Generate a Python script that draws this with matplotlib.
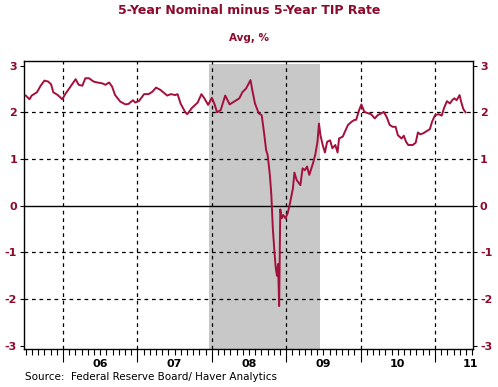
import matplotlib.pyplot as plt
import matplotlib.transforms as mtransforms
import numpy as np

plt.rcParams["axes.unicode_minus"] = False

# 5-year nominal minus 5-year TIPS rate (decimal years, %)
years = [
    2005.50, 2005.55, 2005.58, 2005.65, 2005.70, 2005.75, 2005.80, 2005.84, 2005.87,
    2005.93, 2005.99, 2006.03, 2006.10, 2006.17, 2006.21, 2006.26, 2006.30, 2006.35,
    2006.41, 2006.46, 2006.53, 2006.57, 2006.62, 2006.66, 2006.70, 2006.77, 2006.84,
    2006.88, 2006.94, 2006.97, 2007.02, 2007.09, 2007.15, 2007.20, 2007.25, 2007.31,
    2007.40, 2007.45, 2007.51, 2007.54, 2007.58, 2007.64, 2007.67, 2007.73, 2007.81,
    2007.86, 2007.90, 2007.95, 2008.00, 2008.04, 2008.07, 2008.12, 2008.18, 2008.24,
    2008.30, 2008.37, 2008.41, 2008.46, 2008.52, 2008.54, 2008.58, 2008.63, 2008.67,
    2008.70, 2008.73, 2008.75, 2008.78, 2008.80, 2008.82, 2008.84, 2008.857, 2008.875,
    2008.89, 2008.905, 2008.92, 2008.94, 2008.96, 2008.99, 2009.02, 2009.05, 2009.09,
    2009.11, 2009.14, 2009.19, 2009.22, 2009.25, 2009.28, 2009.31, 2009.36, 2009.39,
    2009.42, 2009.44, 2009.46, 2009.49, 2009.52, 2009.55, 2009.59, 2009.62, 2009.66,
    2009.69, 2009.71, 2009.76, 2009.79, 2009.83, 2009.88, 2009.92, 2009.94, 2009.98,
    2010.01, 2010.05, 2010.10, 2010.14, 2010.19, 2010.23, 2010.28, 2010.31, 2010.35,
    2010.39, 2010.43, 2010.47, 2010.50, 2010.55, 2010.58, 2010.61, 2010.64, 2010.67,
    2010.70, 2010.74, 2010.77, 2010.80, 2010.84, 2010.88, 2010.93, 2010.96, 2011.00,
    2011.05, 2011.09, 2011.12, 2011.16, 2011.20, 2011.23, 2011.26, 2011.29, 2011.33,
    2011.35, 2011.38, 2011.41,
]
spread = [
    2.36, 2.28, 2.36, 2.43, 2.57, 2.68, 2.66, 2.60, 2.43,
    2.37, 2.28, 2.39, 2.55, 2.71, 2.59, 2.57, 2.73, 2.73,
    2.66, 2.64, 2.62, 2.59, 2.64, 2.55, 2.37, 2.23, 2.17,
    2.18, 2.26, 2.21, 2.24, 2.39, 2.39, 2.44, 2.53, 2.48,
    2.36, 2.39, 2.37, 2.39, 2.19, 2.01, 1.96, 2.09, 2.21,
    2.39, 2.30, 2.16, 2.31, 2.16, 2.00, 2.05, 2.36, 2.17,
    2.23, 2.30, 2.43, 2.51, 2.69, 2.51, 2.19, 1.98, 1.94,
    1.59, 1.19, 1.09, 0.66, 0.23, -0.49, -0.95, -1.30, -1.50,
    -1.25, -2.15, -0.08, -0.27, -0.20, -0.27, -0.16, 0.05, 0.37,
    0.71, 0.55, 0.44, 0.80, 0.76, 0.84, 0.66, 0.91, 1.09,
    1.37, 1.76, 1.51, 1.30, 1.14, 1.37, 1.40, 1.23, 1.30,
    1.14, 1.44, 1.48, 1.59, 1.73, 1.80, 1.84, 1.84, 2.05,
    2.17, 2.01, 1.98, 1.96, 1.87, 1.94, 1.98, 2.01, 1.90,
    1.73, 1.69, 1.69, 1.51, 1.44, 1.50, 1.37, 1.30, 1.30,
    1.30, 1.35, 1.57, 1.53, 1.55, 1.59, 1.64, 1.80, 1.94,
    1.96, 1.93, 2.09, 2.24, 2.19, 2.26, 2.30, 2.26, 2.37,
    2.23, 2.07, 2.00,
]

recession = (2007.96, 2009.45)
y_ticks = [-3, -2, -1, 0, 1, 2, 3]
year_labels = ["06", "07", "08", "09", "10", "11"]
year_label_pos = [2006.5, 2007.5, 2008.5, 2009.5, 2010.5, 2011.47]

red = "#8c0a2c"
line_red = "#a50f3c"

fig = plt.figure(figsize=(4.98, 3.87), dpi=100)
ax = fig.add_axes([0.0482, 0.0982, 0.9016, 0.7442])

ax.set_xlim(2005.476, 2011.51)
ax.set_ylim(-3.07, 3.1)

# recession shading (stops a little short of the top of the frame)
ax.fill_between(recession, -3.07, 3.03, color="#c8c8c8", lw=0, zorder=0)

# grid
for y in [-2, -1, 1, 2]:
    ax.axhline(y, color="black", lw=0.9, ls=(0, (3, 3)), zorder=1)
for yr in range(2006, 2012):
    ax.axvline(yr, color="black", lw=0.9, ls=(0, (3, 3)), zorder=1)
ax.axhline(0, color="black", lw=1.0, zorder=1)

ax.plot(years, spread, color=line_red, lw=1.4, zorder=3)

# ticks
ax.set_yticks(y_ticks)
ax.tick_params(axis="y", which="both", direction="out", length=3, width=0.8,
               labelsize=8, labelcolor=red, left=True, right=True,
               labelleft=True, labelright=True, pad=2)
for lab in ax.get_yticklabels():
    lab.set_fontweight("bold")

ax.set_xticks(np.arange(2006, 2012))
ax.set_xticks(np.arange(2005.5, 2011.51, 1 / 12), minor=True)
ax.set_xticklabels([])
ax.tick_params(axis="x", which="major", direction="out", length=9, width=0.8)
ax.tick_params(axis="x", which="minor", direction="out", length=4, width=0.8)

trans = mtransforms.blended_transform_factory(ax.transData, fig.transFigure)
for pos, lab in zip(year_label_pos, year_labels):
    ax.text(pos, 1 - 364 / 387, lab, transform=trans, ha="center", va="center",
            fontsize=8, fontweight="bold", color="black")

for sp in ax.spines.values():
    sp.set_linewidth(1.0)
    sp.set_color("black")

fig.text(0.5, 1 - 10 / 387, "5-Year Nominal minus 5-Year TIP Rate", ha="center",
         va="center", fontsize=9, fontweight="bold", color=red)
fig.text(0.5, 1 - 38 / 387, "Avg, %", ha="center", va="center",
         fontsize=7.5, fontweight="bold", color=red)
fig.text(25 / 498, 1 - 377 / 387, "Source:  Federal Reserve Board/ Haver Analytics",
         ha="left", va="center", fontsize=7.5, color="black")

fig.savefig("out.png", dpi=100)
